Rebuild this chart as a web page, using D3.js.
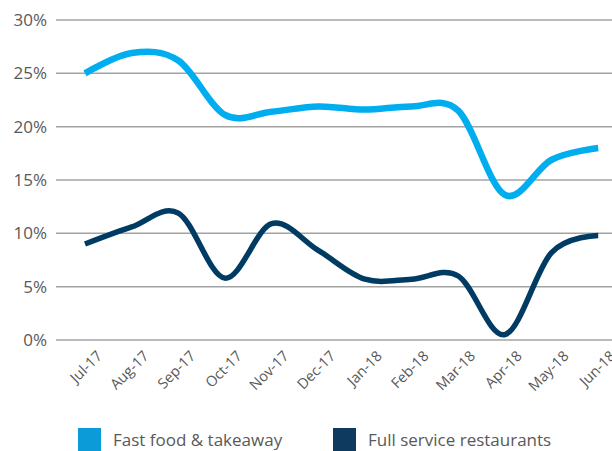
<!DOCTYPE html>
<html>
<head>
<meta charset="utf-8">
<script src="https://cdn.jsdelivr.net/npm/d3@7"></script>
<style>
  html, body { margin: 0; padding: 0; background: #fff; }
  svg { display: block; font-family: "Open Sans", "Noto Sans", sans-serif; }
</style>
</head>
<body>
<svg id="chart" width="612" height="451"></svg>
<script>
// Monthly growth, Jul-17 to Jun-18
const months = ["Jul-17", "Aug-17", "Sep-17", "Oct-17", "Nov-17", "Dec-17",
                "Jan-18", "Feb-18", "Mar-18", "Apr-18", "May-18", "Jun-18"];
const fastFood = [25.0, 26.9, 26.2, 21.1, 21.4, 21.9, 21.6, 21.9, 21.5, 13.6, 16.9, 18.0];
const fullService = [9.0, 10.6, 11.9, 5.8, 10.9, 8.4, 5.7, 5.7, 6.0, 0.5, 8.2, 9.8];
const yTicks = [0, 5, 10, 15, 20, 25, 30];
const seriesNames = ["Fast food & takeaway", "Full service restaurants"];

const lightBlue = "#00aeef";
const darkBlue = "#003b64";
const textGrey = "#595959";

const svg = d3.select("#chart");

const x = d3.scalePoint().domain(months).range([85, 598.2]);
const y = d3.scaleLinear().domain([0, 30]).range([340, 20]);

// horizontal gridlines and percentage labels
const yAxis = svg.append("g").attr("class", "y-axis");
yAxis.selectAll("line")
  .data(yTicks)
  .join("line")
  .attr("x1", 56).attr("x2", 612)
  .attr("y1", d => y(d)).attr("y2", d => y(d))
  .attr("stroke", "#a3a3a3")
  .attr("stroke-width", 1.5);
yAxis.selectAll("text")
  .data(yTicks)
  .join("text")
  .attr("x", 47)
  .attr("y", d => y(d) + 6)
  .attr("text-anchor", "end")
  .attr("font-size", 17)
  .attr("fill", textGrey)
  .text(d => d + "%");

// rotated month labels
svg.append("g").attr("class", "x-axis")
  .selectAll("text")
  .data(months)
  .join("text")
  .attr("transform", d => `translate(${x(d) + 18},${357}) rotate(-45)`)
  .attr("text-anchor", "end")
  .attr("font-size", 14.5)
  .attr("fill", textGrey)
  .text(d => d);

// smoothed series lines
const line = d3.line()
  .x((d, i) => x(months[i]))
  .y(d => y(d))
  .curve(d3.curveCatmullRom.alpha(0));

svg.append("path")
  .datum(fastFood)
  .attr("d", line)
  .attr("fill", "none")
  .attr("stroke", lightBlue)
  .attr("stroke-width", 6.5);

svg.append("path")
  .datum(fullService)
  .attr("d", line)
  .attr("fill", "none")
  .attr("stroke", darkBlue)
  .attr("stroke-width", 5.5);

// legend
const legendItems = [
  { name: seriesNames[0], color: "#0c9bd9", x: 78 },
  { name: seriesNames[1], color: "#0d3a5e", x: 333 }
];
const legend = svg.append("g").attr("class", "legend")
  .selectAll("g")
  .data(legendItems)
  .join("g")
  .attr("transform", d => `translate(${d.x},428)`);
legend.append("rect")
  .attr("width", 23).attr("height", 23)
  .attr("fill", d => d.color);
legend.append("text")
  .attr("x", 35)
  .attr("y", 18)
  .attr("font-size", 17)
  .attr("fill", textGrey)
  .text(d => d.name);
</script>
</body>
</html>
